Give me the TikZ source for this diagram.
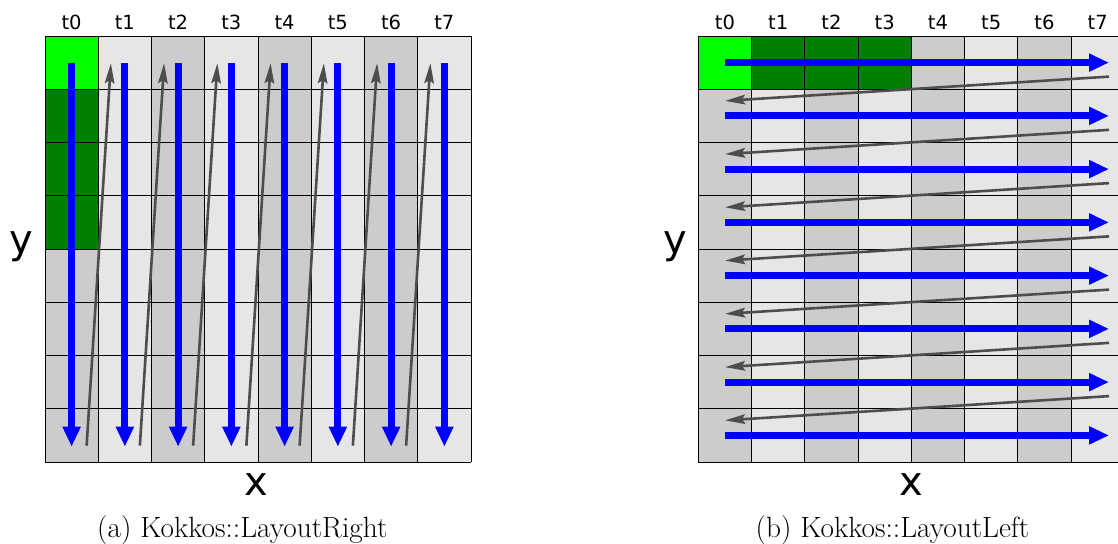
\documentclass[tikz,border=0pt]{standalone}
\usepackage{fontspec}
\newfontfamily\dvs{DejaVu Sans}
\usetikzlibrary{arrows.meta}
\definecolor{bgreen}{RGB}{0,255,0}
\definecolor{dgreen}{RGB}{0,128,0}
\definecolor{cdark}{RGB}{204,204,204}
\definecolor{clight}{RGB}{230,230,230}
\definecolor{garrow}{RGB}{77,77,77}
\begin{document}
\begin{tikzpicture}[x=1pt,y=-1pt,
 cellline/.style={draw=black,line width=0.9pt},
 bluearrow/.style={draw=blue,line width=6.8pt,-{Triangle[length=20pt,width=17pt]}},
 grayarrow/.style={draw=garrow,line width=2.6pt,-{Stealth[length=20pt,width=9.5pt,inset=3pt]}},
 tlabel/.style={font=\dvs\fontsize{19.5}{20}\selectfont,anchor=base},
 axlabel/.style={font=\dvs\fontsize{40}{40}\selectfont,anchor=base},
 caption/.style={font=\fontsize{29.3}{32}\selectfont,anchor=base}]
\useasboundingbox (0,0) rectangle (1118,543);
\clip (0,0) rectangle (1118,543);
\def\c{53.25}
% ---------- left panel (LayoutRight) ----------
\foreach \i in {0,...,7}{
  \pgfmathsetmacro{\xa}{45+\c*\i}
  \pgfmathtruncatemacro{\pp}{mod(\i,2)}
  \ifnum\pp=0 \def\col{cdark}\else\def\col{clight}\fi
  \fill[\col] (\xa,36) rectangle ++(\c,8*\c);
}
\fill[bgreen] (45,36) rectangle ++(\c,\c);
\fill[dgreen] (45,36+\c) rectangle ++(\c,3*\c);
\foreach \i in {0,...,8}{
  \draw[cellline] (45+\c*\i,36) -- (45+\c*\i,36+8*\c);
  \draw[cellline] (45,36+\c*\i) -- (45+8*\c,36+\c*\i);
}
\foreach \i in {0,...,7}{
  \pgfmathsetmacro{\xc}{45+\c*(\i+0.5)}
  \node[tlabel] (Lt\i) at (\xc,29.3) {t\i};
  \coordinate (Lbs\i) at (\xc,63);
  \coordinate (Lbe\i) at (\xc,446.7);
  \draw[bluearrow] (Lbs\i) -- (Lbe\i);
}
\foreach \i in {0,...,6}{
  \pgfmathsetmacro{\xs}{45+\c*(\i+0.5)+15}
  \pgfmathsetmacro{\xe}{45+\c*(\i+1.5)-14}
  \coordinate (Lgs\i) at (\xs,445.7);
  \coordinate (Lge\i) at (\xe,63.3);
  \draw[grayarrow] (Lgs\i) -- (Lge\i);
}
\node[axlabel] (Ly) at (21.7,253.6) {y};
\node[axlabel] (Lx) at (256.7,495) {x};
\node[caption] (Lcap) at (242.3,537.5) {(a) Kokkos::LayoutRight};
% ---------- right panel (LayoutLeft) ----------
\def\ox{698.3}
\foreach \i in {0,...,7}{
  \pgfmathsetmacro{\xa}{\ox+\c*\i}
  \pgfmathtruncatemacro{\pp}{mod(\i,2)}
  \ifnum\pp=0 \def\col{cdark}\else\def\col{clight}\fi
  \fill[\col] (\xa,36) rectangle ++(\c,8*\c);
}
\fill[bgreen] (\ox,36) rectangle ++(\c,\c);
\fill[dgreen] (\ox+\c,36) rectangle ++(3*\c,\c);
\foreach \i in {0,...,8}{
  \draw[cellline] (\ox+\c*\i,36) -- (\ox+\c*\i,36+8*\c);
  \draw[cellline] (\ox,36+\c*\i) -- (\ox+8*\c,36+\c*\i);
}
\foreach \i in {0,...,7}{
  \pgfmathsetmacro{\xc}{\ox+\c*(\i+0.5)}
  \node[tlabel] (Rt\i) at (\xc,29.3) {t\i};
  \pgfmathsetmacro{\yc}{36+\c*(\i+0.5)}
  \coordinate (Rbs\i) at (725,\yc);
  \coordinate (Rbe\i) at (1109,\yc);
  \draw[bluearrow] (Rbs\i) -- (Rbe\i);
}
\foreach \i in {0,...,6}{
  \pgfmathsetmacro{\ys}{36+\c*(\i+0.5)+14}
  \pgfmathsetmacro{\ye}{36+\c*(\i+1.5)-15}
  \coordinate (Rgs\i) at (1109,\ys);
  \coordinate (Rge\i) at (725,\ye);
  \draw[grayarrow] (Rgs\i) -- (Rge\i);
}
\node[axlabel] (Ry) at (675,253.6) {y};
\node[axlabel] (Rx) at (911.5,495) {x};
\node[caption] (Rcap) at (892.5,537.5) {(b) Kokkos::LayoutLeft};
\end{tikzpicture}
\end{document}
